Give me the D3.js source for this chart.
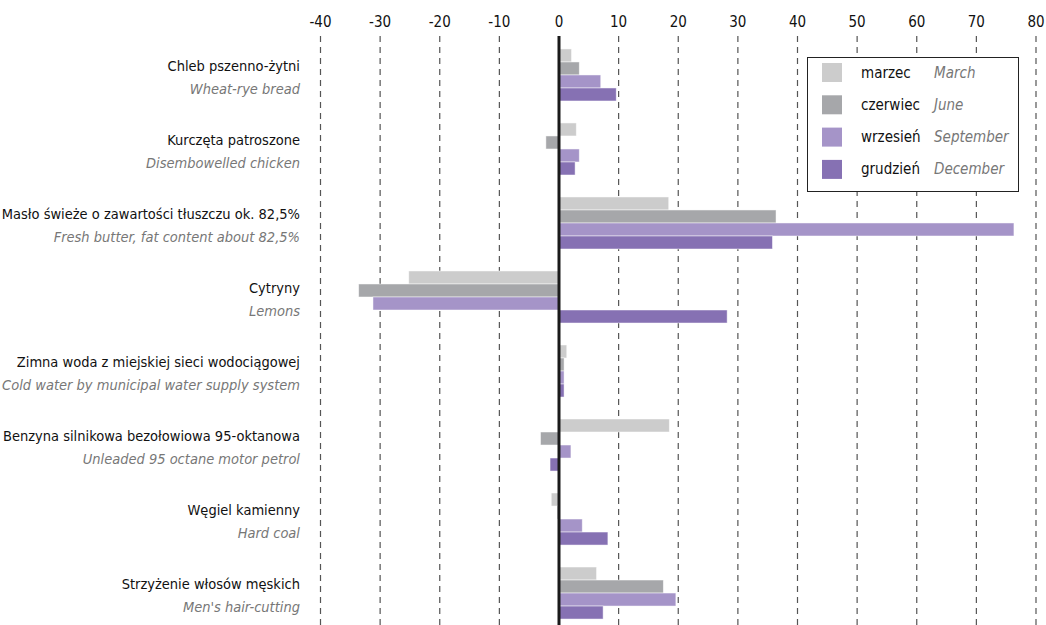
<!DOCTYPE html>
<html><head><meta charset="utf-8">
<script src="https://cdn.jsdelivr.net/npm/d3@7"></script>
<style>
body{margin:0;background:#fff;}
svg{display:block;font-family:"Liberation Sans Narrow","DejaVu Sans Condensed","Open Sans",sans-serif;}
</style></head>
<body><svg id="c" width="1046" height="625"></svg>
<script>
const categoriesPL = ["Chleb pszenno-żytni","Kurczęta patroszone","Masło świeże o zawartości tłuszczu ok. 82,5%","Cytryny","Zimna woda z miejskiej sieci wodociągowej","Benzyna silnikowa bezołowiowa 95-oktanowa","Węgiel kamienny","Strzyżenie włosów męskich"];
const categoriesEN = ["Wheat-rye bread","Disembowelled chicken","Fresh butter, fat content about 82,5%","Lemons","Cold water by municipal water supply system","Unleaded 95 octane motor petrol","Hard coal","Men's hair-cutting"];
const seriesPL = ["marzec","czerwiec","wrzesień","grudzień"];
const seriesEN = ["March","June","September","December"];
const marzec   = [2.1, 2.9, 18.4, -25.2, 1.3, 18.5, -1.3, 6.3];
const czerwiec = [3.4, -2.2, 36.4, -33.6, 0.85, -3.1, -0.3, 17.5];
const wrzesien = [7.0, 3.4, 76.3, -31.2, 0.85, 2.0, 3.9, 19.6];
const grudzien = [9.6, 2.7, 35.8, 28.2, 0.85, -1.5, 8.2, 7.4];
const tickValues = [-40,-30,-20,-10,0,10,20,30,40,50,60,70,80];
const colors = ["#cccccc","#a6a7aa","#a594c8","#8671b3"];

const values = [marzec, czerwiec, wrzesien, grudzien];
const svg = d3.select("#c");
const x = d3.scaleLinear().domain([-40,80]).range([320.5,1036]);
const y = d3.scaleBand().domain(d3.range(categoriesPL.length)).range([38,630]).paddingInner(0.297).paddingOuter(0.148);
const yi = d3.scaleBand().domain(d3.range(seriesPL.length)).range([0,y.bandwidth()]);

// tick labels
svg.append("g").selectAll("text").data(tickValues).join("text")
  .attr("x", d=>x(d)).attr("y", 27).attr("text-anchor","middle")
  .attr("font-size", 15).attr("fill","#111").text(d=>d);
// grid lines
svg.append("g").selectAll("line").data(tickValues.filter(d=>d!==0)).join("line")
  .attr("x1", d=>x(d)).attr("x2", d=>x(d)).attr("y1", 36).attr("y2", 625)
  .attr("stroke", (d,i)=> "#555").attr("stroke-width",1.2).attr("stroke-dasharray","6,5");

// bars
const g = svg.append("g");
values.forEach((arr, s) => {
  g.selectAll("rect.s"+s).data(arr).join("rect").attr("class","s"+s)
    .attr("x", d=>x(Math.min(0,d))).attr("width", d=>Math.abs(x(d)-x(0)))
    .attr("y", (d,i)=>y(i)+yi(s)).attr("height", yi.bandwidth())
    .attr("fill", colors[s]).attr("stroke","#ffffff").attr("stroke-opacity",0.6).attr("stroke-width",0.8);
});
// zero line
svg.append("line").attr("x1",x(0)).attr("x2",x(0)).attr("y1",36).attr("y2",625)
  .attr("stroke","#1a1a1a").attr("stroke-width",3);

// category labels
const lab = svg.append("g");
lab.selectAll("text.pl").data(categoriesPL).join("text").attr("class","pl")
  .attr("x",300).attr("y",(d,i)=>y(i)+y.bandwidth()/2-4).attr("text-anchor","end")
  .attr("font-size",14.5).attr("fill","#111").text(d=>d);
lab.selectAll("text.en").data(categoriesEN).join("text").attr("class","en")
  .attr("x",300).attr("y",(d,i)=>y(i)+y.bandwidth()/2+19).attr("text-anchor","end")
  .attr("font-size",14.5).attr("font-style","italic").attr("fill","#777").text(d=>d);

// legend
const lg = svg.append("g");
lg.append("rect").attr("x",807.5).attr("y",57.5).attr("width",211).attr("height",134)
  .attr("fill","#fff").attr("stroke","#222").attr("stroke-width",1);
seriesPL.forEach((s,i)=>{
  const cy = 72.5 + i*32.3;
  lg.append("rect").attr("x",822).attr("y",cy-9.5).attr("width",20).attr("height",19).attr("fill",colors[i]);
  lg.append("text").attr("x",861).attr("y",cy+5).attr("font-size",15).attr("fill","#111").text(s);
  lg.append("text").attr("x",934).attr("y",cy+5).attr("font-size",15).attr("font-style","italic").attr("fill","#777").text(seriesEN[i]);
});
</script></body></html>
